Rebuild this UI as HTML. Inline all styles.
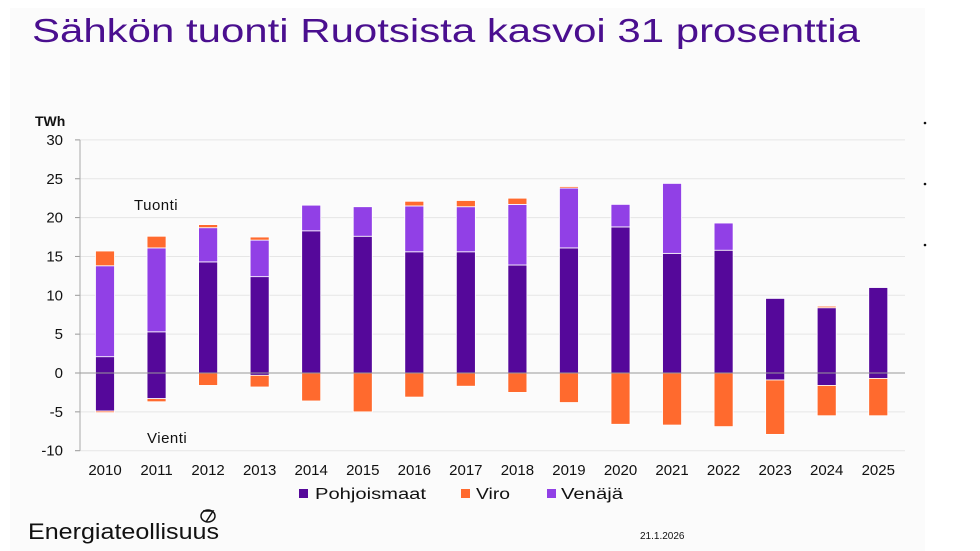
<!DOCTYPE html>
<html><head><meta charset="utf-8"><style>
html,body{margin:0;padding:0;background:#fff;}
#wrap{position:relative;width:980px;height:551px;overflow:hidden;background:#fff;font-family:"Liberation Sans",sans-serif;}
#panel{position:absolute;left:10px;top:8px;width:915px;height:543px;background:#fbfbfb;}
</style></head><body>
<div id="wrap">
<div id="panel"></div>
<svg id="chart" width="980" height="551" style="position:absolute;left:0;top:0">
<text x="32" y="42" font-size="33" fill="#4a0f8f" textLength="828" lengthAdjust="spacingAndGlyphs">Sähkön tuonti Ruotsista kasvoi 31 prosenttia</text>
<text x="35" y="126" font-size="14" font-weight="bold" fill="#111">TWh</text>
<text x="134" y="210" font-size="15" fill="#111" letter-spacing="0.5">Tuonti</text>
<text x="147" y="443" font-size="15" fill="#111" letter-spacing="0.5">Vienti</text>
<g id="grid"></g><g id="bars"></g><g id="axes"></g>
<g>
<rect x="299" y="489" width="9" height="9" fill="#55089a"/>
<text x="315" y="499" font-size="15.5" fill="#111" textLength="111" lengthAdjust="spacingAndGlyphs">Pohjoismaat</text>
<rect x="461" y="489" width="9" height="9" fill="#ff6a2e"/>
<text x="476" y="499" font-size="15.5" fill="#111" textLength="34" lengthAdjust="spacingAndGlyphs">Viro</text>
<rect x="547" y="489" width="9" height="9" fill="#9140e6"/>
<text x="561" y="499" font-size="15.5" fill="#111" textLength="62" lengthAdjust="spacingAndGlyphs">Venäjä</text>
</g>
<text x="28" y="539" font-size="22" fill="#111" textLength="191" lengthAdjust="spacingAndGlyphs">Energiateollisuus</text>
<g><ellipse cx="208" cy="516" rx="7" ry="6" fill="none" stroke="#111" stroke-width="1.5"/><path d="M203 511 L213 511 L206 522" fill="none" stroke="#111" stroke-width="1.5"/></g>
<text x="640" y="539" font-size="10" fill="#111">21.1.2026</text>
<circle cx="925" cy="123" r="1.3" fill="#111"/>
<circle cx="925" cy="184" r="1.3" fill="#111"/>
<circle cx="925" cy="245" r="1.3" fill="#111"/>
</svg>
</div>
<script>
const years = ["2010","2011","2012","2013","2014","2015","2016","2017","2018","2019","2020","2021","2022","2023","2024","2025"];
const pohjoisImport = [2.1,5.3,14.3,12.4,18.3,17.6,15.6,15.6,13.9,16.1,18.8,15.4,15.8,9.6,8.4,11.0];
const venajaImport  = [11.7,10.8,4.4,4.7,3.3,3.8,5.9,5.8,7.8,7.7,2.9,9.0,3.5,0,0,0];
const viroImport    = [1.9,1.5,0.4,0.4,0,0,0.6,0.8,0.8,0.2,0,0,0,0,0.2,0];
const pohjoisExport = [-4.9,-3.3,0,-0.3,0,0,0,0,0,0,0,0,0,-0.9,-1.6,-0.7];
const viroExport    = [-0.2,-0.4,-1.6,-1.5,-3.6,-5.0,-3.1,-1.7,-2.5,-3.8,-6.6,-6.7,-6.9,-7.0,-3.9,-4.8];
const yTicks = [30,25,20,15,10,5,0,-5,-10];

const NS="http://www.w3.org/2000/svg";
const y0=373, unit=7.77, xL=80, xR=905;
function yScale(v){return y0 - v*unit;}
function xScale(i){return 105 + i*51.55;}
function mk(tag,attrs,parent){const e=document.createElementNS(NS,tag);for(const k in attrs)e.setAttribute(k,attrs[k]);parent.appendChild(e);return e;}
const grid=document.getElementById('grid'), bars=document.getElementById('bars'), axes=document.getElementById('axes');
yTicks.forEach(t=>{
  const yy=yScale(t);
  if(t!==0){const l=mk('line',{x1:xL,x2:xR,y1:yy,y2:yy,stroke:'#e6e6e6','stroke-width':1},grid);
  
  }
  const tk=mk('line',{x1:75,x2:xL,y1:yy,y2:yy,stroke:'#999','stroke-width':1},axes);
  
  
  const tx=mk('text',{x:63,y:yy+5,'font-size':15,fill:'#111','text-anchor':'end'},axes);
  tx.textContent=t;
  
  
});
const ax=mk('line',{x1:xL,x2:xL,y1:yScale(30),y2:yScale(-10),stroke:'#aaa','stroke-width':1},axes);


const z=mk('line',{x1:xL,x2:xR,y1:y0,y2:y0,stroke:'#999','stroke-width':1},axes);


const W=19;
function seg(i,a,b,color,name){
  if(a===b)return;
  const top=yScale(Math.max(a,b)), bot=yScale(Math.min(a,b));
  const r=mk('rect',{x:xScale(i)-W/2,y:top,width:W,height:Math.max(0.8,bot-top),fill:color,stroke:'#fff','stroke-width':0.8},bars);
  
  
}
years.forEach((yr,i)=>{
  let c=0;
  seg(i,c,c+pohjoisImport[i],'#55089a','bar-pohjoismaat-import-'+yr); c+=pohjoisImport[i];
  seg(i,c,c+venajaImport[i],'#9140e6','bar-venaja-import-'+yr); c+=venajaImport[i];
  seg(i,c,c+viroImport[i],'#ff6a2e','bar-viro-import-'+yr);
  let n=0;
  seg(i,n,n+pohjoisExport[i],'#55089a','bar-pohjoismaat-export-'+yr); n+=pohjoisExport[i];
  seg(i,n,n+viroExport[i],'#ff6a2e','bar-viro-export-'+yr);
  const t=mk('text',{x:xScale(i),y:475,'font-size':15,fill:'#111','text-anchor':'middle'},axes);
  t.textContent=yr;
  
  
});
</script>
</body></html>
